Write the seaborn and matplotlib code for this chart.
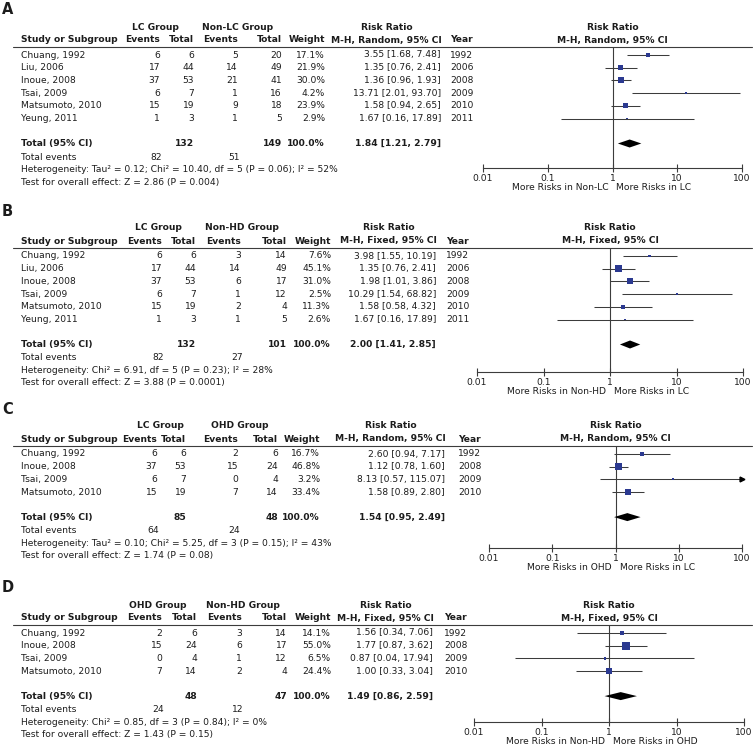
import numpy as np
import pandas as pd
import seaborn as sns
import matplotlib.pyplot as plt
from matplotlib.ticker import NullLocator

# ---------------- data ----------------
studies_6 = ['Chuang, 1992', 'Liu, 2006', 'Inoue, 2008', 'Tsai, 2009', 'Matsumoto, 2010', 'Yeung, 2011']
years_6 = [1992, 2006, 2008, 2009, 2010, 2011]
studies_4 = ['Chuang, 1992', 'Inoue, 2008', 'Tsai, 2009', 'Matsumoto, 2010']
years_4 = [1992, 2008, 2009, 2010]

# A: LC vs Non-LC
a_ev1 = [6, 17, 37, 6, 15, 1]
a_tot1 = [6, 44, 53, 7, 19, 3]
a_ev2 = [5, 14, 21, 1, 9, 1]
a_tot2 = [20, 49, 41, 16, 18, 5]
a_weight = [17.1, 21.9, 30.0, 4.2, 23.9, 2.9]
a_rr = [3.55, 1.35, 1.36, 13.71, 1.58, 1.67]
a_lo = [1.68, 0.76, 0.96, 2.01, 0.94, 0.16]
a_hi = [7.48, 2.41, 1.93, 93.70, 2.65, 17.89]
a_total = [132, 149, 82, 51]
a_pooled = [1.84, 1.21, 2.79]
a_het = 'Heterogeneity: Tau\u00b2 = 0.12; Chi\u00b2 = 10.40, df = 5 (P = 0.06); I\u00b2 = 52%'
a_test = 'Test for overall effect: Z = 2.86 (P = 0.004)'

# B: LC vs Non-HD
b_ev1 = [6, 17, 37, 6, 15, 1]
b_tot1 = [6, 44, 53, 7, 19, 3]
b_ev2 = [3, 14, 6, 1, 2, 1]
b_tot2 = [14, 49, 17, 12, 4, 5]
b_weight = [7.6, 45.1, 31.0, 2.5, 11.3, 2.6]
b_rr = [3.98, 1.35, 1.98, 10.29, 1.58, 1.67]
b_lo = [1.55, 0.76, 1.01, 1.54, 0.58, 0.16]
b_hi = [10.19, 2.41, 3.86, 68.82, 4.32, 17.89]
b_total = [132, 101, 82, 27]
b_pooled = [2.00, 1.41, 2.85]
b_het = 'Heterogeneity: Chi\u00b2 = 6.91, df = 5 (P = 0.23); I\u00b2 = 28%'
b_test = 'Test for overall effect: Z = 3.88 (P = 0.0001)'

# C: LC vs OHD
c_ev1 = [6, 37, 6, 15]
c_tot1 = [6, 53, 7, 19]
c_ev2 = [2, 15, 0, 7]
c_tot2 = [6, 24, 4, 14]
c_weight = [16.7, 46.8, 3.2, 33.4]
c_rr = [2.60, 1.12, 8.13, 1.58]
c_lo = [0.94, 0.78, 0.57, 0.89]
c_hi = [7.17, 1.60, 115.07, 2.80]
c_total = [85, 48, 64, 24]
c_pooled = [1.54, 0.95, 2.49]
c_het = 'Heterogeneity: Tau\u00b2 = 0.10; Chi\u00b2 = 5.25, df = 3 (P = 0.15); I\u00b2 = 43%'
c_test = 'Test for overall effect: Z = 1.74 (P = 0.08)'

# D: OHD vs Non-HD
d_ev1 = [2, 15, 0, 7]
d_tot1 = [6, 24, 4, 14]
d_ev2 = [3, 6, 1, 2]
d_tot2 = [14, 17, 12, 4]
d_weight = [14.1, 55.0, 6.5, 24.4]
d_rr = [1.56, 1.77, 0.87, 1.00]
d_lo = [0.34, 0.87, 0.04, 0.33]
d_hi = [7.06, 3.62, 17.94, 3.04]
d_total = [48, 47, 24, 12]
d_pooled = [1.49, 0.86, 2.59]
d_het = 'Heterogeneity: Chi\u00b2 = 0.85, df = 3 (P = 0.84); I\u00b2 = 0%'
d_test = 'Test for overall effect: Z = 1.43 (P = 0.15)'

tick_vals = [0.01, 0.1, 1, 10, 100]
tick_labels = ['0.01', '0.1', '1', '10', '100']

panels = [
    dict(letter='A', groups=('LC Group', 'Non-LC Group'), method='M-H, Random, 95% CI',
         favours=('More Risks in Non-LC', 'More Risks in LC'), studies=studies_6, years=years_6,
         ev1=a_ev1, tot1=a_tot1, ev2=a_ev2, tot2=a_tot2, w=a_weight, rr=a_rr, lo=a_lo, hi=a_hi,
         total=a_total, pooled=a_pooled, het=a_het, test=a_test),
    dict(letter='B', groups=('LC Group', 'Non-HD Group'), method='M-H, Fixed, 95% CI',
         favours=('More Risks in Non-HD', 'More Risks in LC'), studies=studies_6, years=years_6,
         ev1=b_ev1, tot1=b_tot1, ev2=b_ev2, tot2=b_tot2, w=b_weight, rr=b_rr, lo=b_lo, hi=b_hi,
         total=b_total, pooled=b_pooled, het=b_het, test=b_test),
    dict(letter='C', groups=('LC Group', 'OHD Group'), method='M-H, Random, 95% CI',
         favours=('More Risks in OHD', 'More Risks in LC'), studies=studies_4, years=years_4,
         ev1=c_ev1, tot1=c_tot1, ev2=c_ev2, tot2=c_tot2, w=c_weight, rr=c_rr, lo=c_lo, hi=c_hi,
         total=c_total, pooled=c_pooled, het=c_het, test=c_test),
    dict(letter='D', groups=('OHD Group', 'Non-HD Group'), method='M-H, Fixed, 95% CI',
         favours=('More Risks in Non-HD', 'More Risks in OHD'), studies=studies_4, years=years_4,
         ev1=d_ev1, tot1=d_tot1, ev2=d_ev2, tot2=d_tot2, w=d_weight, rr=d_rr, lo=d_lo, hi=d_hi,
         total=d_total, pooled=d_pooled, het=d_het, test=d_test),
]

# layout in pixels (header line y, axis line y, forest x-range, column right edges ...)
layouts = [
    dict(line=47, axis=168, x0=483, x1=742, cols=[160, 194, 238, 282, 325], grp=[155, 238], rr=441, year=450),
    dict(line=248, axis=372, x0=477, x1=743, cols=[162, 196, 241, 287, 331], grp=[158, 242], rr=436, year=446),
    dict(line=446, axis=548, x0=489, x1=742, cols=[157, 186, 238, 278, 320], grp=[160, 240], rr=445, year=458),
    dict(line=625, axis=722, x0=474, x1=744, cols=[162, 197, 242, 287, 331], grp=[158, 243], rr=433, year=444),
]

sns.set_theme(style='white')
plt.rcParams['font.family'] = ['DejaVu Sans']

W, H = 754, 755
FS = 6.6
INK = '#1c1c1c'
LINE = '#3c3c3c'
NAVY = '#2b3990'
STEP = 12.7

fig = plt.figure(figsize=(W / 100, H / 100), dpi=100)
tab = fig.add_axes([0, 0, 1, 1])
tab.set_xlim(0, W)
tab.set_ylim(H, 0)
tab.axis('off')
renderer = fig.canvas.get_renderer()


def txt(x, y, s, ha='left', bold=False, size=FS):
    return tab.text(x, y, s, ha=ha, va='center', fontsize=size, color=INK,
                    fontweight='bold' if bold else 'normal')


def fmt_rr(r, l, h):
    return f'{r:.2f} [{l:.2f}, {h:.2f}]'


for p, lay in zip(panels, layouts):
    L = lay['line']
    c = lay['cols']
    n = len(p['studies'])
    ys = L + 8 + STEP * np.arange(n)
    y_tot = ys[-1] + 25
    y_ev = y_tot + 13.5
    y_het = y_ev + 12.5
    y_test = y_het + 12.5

    # headers
    txt(2, L - 37, p['letter'], bold=True, size=10.5)
    txt(lay['grp'][0], L - 20, p['groups'][0], ha='center', bold=True)
    txt(lay['grp'][1], L - 20, p['groups'][1], ha='center', bold=True)
    txt(21, L - 7, 'Study or Subgroup', bold=True)
    for x, s in zip(c, ['Events', 'Total', 'Events', 'Total', 'Weight']):
        txt(x, L - 7, s, ha='right', bold=True)
    hdr = txt(lay['rr'] + 1, L - 7, p['method'], ha='right', bold=True)
    bb = hdr.get_window_extent(renderer)
    txt((bb.x0 + bb.x1) / 2, L - 20, 'Risk Ratio', ha='center', bold=True)
    txt(lay['year'], L - 7, 'Year', bold=True)
    xm = (lay['x0'] + lay['x1']) / 2
    txt(xm, L - 20, 'Risk Ratio', ha='center', bold=True)
    txt(xm, L - 7, p['method'], ha='center', bold=True)
    tab.plot([13, 752], [L, L], color=LINE, lw=0.8)

    # study rows
    for i in range(n):
        y = ys[i]
        txt(21, y, p['studies'][i])
        vals = [p['ev1'][i], p['tot1'][i], p['ev2'][i], p['tot2'][i]]
        for x, v in zip(c[:4], vals):
            txt(x, y, str(v), ha='right')
        txt(c[4], y, f"{p['w'][i]:.1f}%", ha='right')
        txt(lay['rr'], y, fmt_rr(p['rr'][i], p['lo'][i], p['hi'][i]), ha='right')
        txt(lay['year'], y, str(p['years'][i]))

    # totals
    txt(21, y_tot, 'Total (95% CI)', bold=True)
    txt(c[1], y_tot, str(p['total'][0]), ha='right', bold=True)
    txt(c[3], y_tot, str(p['total'][1]), ha='right', bold=True)
    txt(c[4], y_tot, '100.0%', ha='right', bold=True)
    txt(lay['rr'], y_tot, fmt_rr(*p['pooled']), ha='right', bold=True)
    txt(21, y_ev, 'Total events')
    txt(c[0] + 2, y_ev, str(p['total'][2]), ha='right')
    txt(c[2] + 2, y_ev, str(p['total'][3]), ha='right')
    txt(21, y_het, p['het'])
    txt(21, y_test, p['test'])

    # forest
    ax = fig.add_axes([lay['x0'] / W, 1 - lay['axis'] / H,
                       (lay['x1'] - lay['x0']) / W, (lay['axis'] - L) / H])
    df = pd.DataFrame({'rr': p['rr'], 'y': ys, 'w': p['w']})
    hi = np.array(p['hi'])
    ax.hlines(ys, p['lo'], np.minimum(hi, 100), color=LINE, lw=0.75, zorder=2)
    sns.scatterplot(data=df, x='rr', y='y', size='w', sizes=(0, 60), size_norm=(0, 100),
                    marker='s', color=NAVY, linewidth=0, legend=False, ax=ax, zorder=3)
    for yy in ys[hi > 100]:
        ax.plot(100, yy, marker='>', ms=3.5, color='black', clip_on=False, zorder=4)
    pr, pl, ph = p['pooled']
    ax.fill([pl, pr, ph, pr], [y_tot, y_tot - 4, y_tot, y_tot + 4], color='black', lw=0, zorder=3)
    ax.axvline(1, color=LINE, lw=0.8, zorder=1)
    ax.set_xscale('log')
    ax.set_xlim(0.01, 100)
    ax.set_ylim(lay['axis'], L)
    for s in ['top', 'left', 'right']:
        ax.spines[s].set_visible(False)
    ax.spines['bottom'].set_color(LINE)
    ax.spines['bottom'].set_linewidth(0.8)
    ax.set_xticks(tick_vals)
    ax.set_xticklabels(tick_labels)
    ax.xaxis.set_minor_locator(NullLocator())
    ax.tick_params(axis='x', direction='inout', length=6, width=0.8, pad=1.5,
                   labelsize=FS, color=LINE, labelcolor=INK, bottom=True)
    ax.set_yticks([])
    ax.set_xlabel('')
    ax.set_ylabel('')
    ax.patch.set_alpha(0)

    txt(xm - 4, lay['axis'] + 20, p['favours'][0], ha='right')
    txt(xm + 4, lay['axis'] + 20, p['favours'][1], ha='left')

fig.savefig('out.png', dpi=100)
